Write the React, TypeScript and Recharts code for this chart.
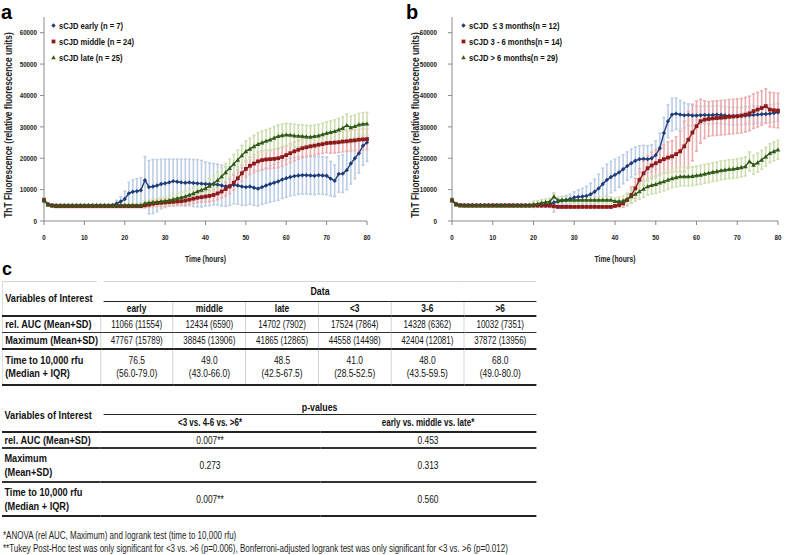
import React from "react";
import { ComposedChart, Line, ErrorBar, XAxis, YAxis, Legend } from "recharts";

// hours 0..80
const HOURS = [
  0, 1, 2, 3, 4, 5, 6, 7, 8, 9, 10, 11, 12, 13, 14, 15, 16, 17, 18, 19, 20, 21, 22, 23, 24, 25, 26, 27, 28, 29, 30, 31, 32, 33, 34, 35, 36, 37, 38, 39, 40,
  41, 42, 43, 44, 45, 46, 47, 48, 49, 50, 51, 52, 53, 54, 55, 56, 57, 58, 59, 60, 61, 62, 63, 64, 65, 66, 67, 68, 69, 70, 71, 72, 73, 74, 75, 76, 77, 78, 79, 80,
];

// panel a
const EARLY = [
  6500, 5300, 5000, 4900, 4900, 4900, 4900, 4900, 4900, 4900,
  4900, 4900, 4900, 4900, 4900, 4900, 4900, 5000, 5600, 6200,
  7000, 8800, 9300, 9500, 9800, 13000, 10800, 11000, 11300, 11800,
  12000, 12300, 12700, 12500, 12300, 12200, 12300, 12100, 12000, 11900,
  11800, 11700, 11700, 11600, 11300, 11000, 11200, 11500, 11300, 11000,
  10800, 11000, 10600, 10300, 10800, 11300, 11800, 12200, 12600, 13200,
  13600, 14000, 14300, 14500, 14600, 14600, 14500, 14400, 14600, 14500,
  14400, 13500, 12800, 15000, 15100, 16200, 18300, 20000, 21600, 24000,
  25000,
];
const EARLY_SD = [
  800, 400, 400, 400, 400, 400, 400, 400, 400, 400,
  400, 400, 400, 400, 400, 400, 400, 400, 1000, 1500,
  2500, 3500, 3800, 4000, 4000, 7500, 8500, 8600, 8300, 7900,
  7700, 7400, 7000, 7200, 7400, 7500, 7400, 7500, 7500, 7400,
  7000, 6800, 6600, 6500, 6500, 6300, 6200, 6000, 6000, 6000,
  5800, 5700, 5600, 5500, 5500, 5600, 5800, 5900, 6000, 6000,
  6000, 6000, 6000, 6000, 6000, 6000, 6000, 6000, 6000, 6000,
  6000, 5500, 5000, 5800, 6000, 6200, 6500, 6500, 6300, 6200,
  6000,
];
const MIDDLE = [
  6700, 5200, 4900, 4700, 4700, 4700, 4700, 4700, 4700, 4700,
  4700, 4700, 4700, 4700, 4700, 4700, 4700, 4700, 4700, 4700,
  4700, 4700, 4700, 4700, 4700, 5000, 5200, 5500, 5700, 5800,
  5900, 6000, 6100, 6200, 6300, 6500, 6800, 7100, 7400, 7600,
  7800, 8000, 8300, 8800, 9400, 10200, 11000, 12200, 13600, 15200,
  16600, 17600, 18300, 19000, 19400, 19600, 19700, 19800, 20000, 20400,
  21000, 21600, 22200, 22700, 23200, 23500, 23800, 24000, 24300, 24500,
  24800, 24900, 25000, 25100, 25300, 25400, 25600, 25700, 25900, 26000,
  26100,
];
const MIDDLE_SD = [
  600, 300, 300, 300, 300, 300, 300, 300, 300, 300,
  300, 300, 300, 300, 300, 300, 300, 300, 300, 300,
  300, 300, 300, 300, 300, 800, 900, 1000, 1100, 1200,
  1200, 1200, 1300, 1300, 1300, 1400, 1400, 1500, 1500, 1600,
  1700, 1800, 1900, 2000, 2100, 2200, 2300, 2400, 2500, 2600,
  2700, 2800, 2900, 3000, 3000, 3000, 3000, 3000, 3000, 3000,
  3000, 3000, 3000, 3000, 3000, 3000, 3000, 3000, 3000, 3000,
  3000, 3300, 3300, 3300, 3300, 3300, 3300, 3300, 3300, 3300,
  3300,
];
const LATE = [
  6600, 5300, 5000, 5000, 5000, 5000, 5000, 5000, 5000, 5000,
  5000, 5000, 5000, 5000, 5000, 5000, 5000, 5000, 5000, 5000,
  5000, 5000, 5000, 5000, 5000, 5600, 5800, 6000, 6100, 6300,
  6400, 6600, 6900, 7200, 7500, 7800, 8300, 8800, 9400, 9900,
  10400, 11200, 12000, 13000, 14200, 15500, 16800, 18200, 19500, 20900,
  22200, 23000, 23800, 24500, 25000, 25500, 25900, 26500, 27000, 27300,
  27500, 27400, 27200, 27100, 27000, 26900, 26800, 27000, 27200, 27600,
  28000, 28300, 28600, 29100, 29600, 30500, 29800, 30200, 30700, 30900,
  31000,
];
const LATE_SD = [
  600, 400, 400, 400, 400, 400, 400, 400, 400, 400,
  400, 400, 400, 400, 400, 400, 400, 400, 400, 400,
  400, 400, 400, 400, 400, 800, 900, 1000, 1100, 1200,
  1300, 1400, 1500, 1600, 1700, 1800, 1900, 2000, 2100, 2200,
  2300, 2400, 2500, 2600, 2700, 2800, 2900, 3000, 3100, 3200,
  3300, 3400, 3500, 3600, 3600, 3600, 3600, 3600, 3600, 3600,
  3600, 3600, 3600, 3600, 3600, 3600, 3600, 3600, 3600, 3600,
  3600, 3600, 3600, 3600, 3600, 3600, 3600, 3600, 3600, 3600,
  3600,
];

// panel b
const UPTO3 = [
  6600, 5300, 5000, 5000, 5000, 5000, 5000, 5000, 5000, 5000,
  5000, 5000, 5000, 5000, 5000, 5000, 5000, 5000, 5000, 5000,
  5000, 5000, 5000, 5000, 5300, 5900, 6200, 6500, 6700, 7000,
  7500, 7700, 7800, 8000, 8500, 9300, 10400, 11800, 13100, 14000,
  14700, 15500, 16500, 17500, 18400, 19200, 19700, 19800, 19700, 20000,
  21000, 23200, 28000, 31800, 33900, 34200, 33900, 33700, 33800, 33600,
  33600, 33700, 33800, 33700, 33800, 33900, 33800, 33600, 33500, 33400,
  33400, 33500, 33600, 33700, 33800, 33900, 34000, 34100, 34200, 34400,
  34600,
];
const UPTO3_SD = [
  600, 400, 400, 400, 400, 400, 400, 400, 400, 400,
  400, 400, 400, 400, 400, 400, 400, 400, 400, 400,
  400, 400, 400, 400, 1000, 3000, 1200, 1300, 1400, 1500,
  1800, 2200, 2600, 3000, 3500, 4000, 4500, 5000, 5000, 5000,
  5000, 4800, 4600, 4500, 4500, 4400, 4300, 4300, 4300, 4300,
  4500, 4800, 5000, 5200, 5200, 5000, 4500, 4000, 3500, 3200,
  3000, 2800, 2800, 2800, 2800, 2800, 2800, 2800, 2800, 2800,
  2800, 2800, 2800, 2800, 2800, 2800, 2800, 2800, 2800, 2800,
  2800,
];
const M3TO6 = [
  6600, 5300, 5000, 4900, 4900, 4900, 4900, 4900, 4900, 4900,
  4900, 4900, 4900, 4900, 4900, 4900, 4900, 4900, 4900, 4900,
  4900, 4900, 4900, 4900, 4900, 4700, 4500, 4500, 4500, 4500,
  4500, 4500, 4500, 4500, 4500, 4500, 4500, 4500, 4500, 4500,
  4800, 5100, 5600, 6700, 8300, 10400, 13100, 15200, 16800, 17700,
  18400, 19100, 19700, 20200, 20600, 21300, 22200, 23800, 25900, 28200,
  30200, 31800, 32300, 32500, 32700, 32800, 32900, 33000, 33200, 33300,
  33400, 33600, 33900, 34300, 35000, 35500, 36000, 36600, 35500, 35300,
  35200,
];
const M3TO6_SD = [
  600, 400, 400, 400, 400, 400, 400, 400, 400, 400,
  400, 400, 400, 400, 400, 400, 400, 400, 400, 400,
  400, 400, 400, 400, 400, 400, 400, 400, 400, 400,
  400, 400, 400, 400, 400, 400, 400, 400, 400, 400,
  400, 800, 1200, 1800, 2500, 3200, 3500, 3800, 4000, 4200,
  4300, 4400, 4500, 5000, 5000, 5500, 6500, 8000, 9000, 9000,
  8000, 7000, 6000, 5500, 5500, 5500, 5500, 5500, 5500, 5500,
  5500, 5500, 5500, 5500, 5500, 5500, 5500, 5500, 5500, 5500,
  5500,
];
const OVER6 = [
  6600, 5300, 5000, 5000, 5000, 5000, 5000, 5000, 5000, 5000,
  5000, 5000, 5000, 5000, 5000, 5000, 5000, 5000, 5000, 5000,
  5300, 5500, 5800, 6000, 6200, 7800, 6600, 6700, 6700, 6700,
  6700, 6700, 6700, 6700, 6700, 6700, 6700, 6700, 6700, 6700,
  6300, 6300, 6400, 7000, 7800, 8600, 9400, 10200, 11000, 11400,
  11700, 12200, 12600, 13100, 13600, 13900, 14200, 14200, 14200, 14300,
  14500, 14700, 15000, 15300, 15600, 15800, 16100, 16300, 16500, 16600,
  16800, 17100, 17400, 19000, 17900, 18600, 19500, 20500, 21600, 22200,
  22700,
];
const OVER6_SD = [
  600, 400, 400, 400, 400, 400, 400, 400, 400, 400,
  400, 400, 400, 400, 400, 400, 400, 400, 400, 400,
  1000, 1000, 1000, 1000, 1000, 1000, 1000, 1000, 1000, 1000,
  1000, 1000, 1000, 1000, 1000, 1000, 1000, 1000, 1000, 1000,
  1000, 1300, 1600, 1900, 2100, 2300, 2500, 2600, 2700, 2800,
  2900, 3000, 3000, 3000, 3000, 3000, 3000, 3000, 3000, 3000,
  3000, 3000, 3000, 3000, 3000, 3000, 3000, 3000, 3000, 3000,
  3000, 3000, 3000, 3000, 3000, 3000, 3000, 3000, 3000, 3000,
  3000,
];

const X_TICKS = [0, 10, 20, 30, 40, 50, 60, 70, 80];
const Y_TICKS = [0, 10000, 20000, 30000, 40000, 50000, 60000];

const LEGEND_A = ["sCJD early (n = 7)", "sCJD middle (n = 24)", "sCJD late (n = 25)"];
const LEGEND_B = ["sCJD  \u2264 3 months(n = 12)", "sCJD 3 - 6 months(n = 14)", "sCJD > 6 months(n = 29)"];

// table c
const GROUPS = ["early", "middle", "late", "<3", "3-6", ">6"];
const AUC_ROW = ["11066 (11554)", "12434 (6590)", "14702 (7902)", "17524 (7864)", "14328 (6362)", "10032 (7351)"];
const MAX_ROW = ["47767 (15789)", "38845 (13906)", "41865 (12865)", "44558 (14498)", "42404 (12081)", "37872 (13956)"];
const T10K_MEDIAN = ["76.5", "49.0", "48.5", "41.0", "48.0", "68.0"];
const T10K_IQR = ["(56.0-79.0)", "(43.0-66.0)", "(42.5-67.5)", "(28.5-52.5)", "(43.5-59.5)", "(49.0-80.0)"];
const P_COLS = ["<3 vs. 4-6 vs. >6*", "early vs. middle vs. late*"];
const P_AUC = ["0.007**", "0.453"];
const P_MAX = ["0.273", "0.313"];
const P_T10K = ["0.007**", "0.560"];

const SANS = '"Liberation Sans", Arial, sans-serif';
const SQUEEZE = 0.8; // no narrow font installed, squeeze Liberation Sans instead
const SERIES_COLORS = ["#1f3c78", "#8e1b1b", "#2f5a17"];
const ERR_COLORS = ["#bccee6", "#ebadad", "#cddeae"];

const rowsA = HOURS.map((h, i) => ({
  h,
  s0: EARLY[i], e0: EARLY_SD[i],
  s1: MIDDLE[i], e1: MIDDLE_SD[i],
  s2: LATE[i], e2: LATE_SD[i],
}));
const rowsB = HOURS.map((h, i) => ({
  h,
  s0: UPTO3[i], e0: UPTO3_SD[i],
  s1: M3TO6[i], e1: M3TO6_SD[i],
  s2: OVER6[i], e2: OVER6_SD[i],
}));

function Marker({ kind, cx, cy, color }: { kind: number; cx: number; cy: number; color: string }) {
  if (kind === 0) {
    const r = 2.2;
    return <path d={`M${cx},${cy - r}L${cx + r},${cy}L${cx},${cy + r}L${cx - r},${cy}Z`} fill={color} />;
  }
  if (kind === 1) {
    return <rect x={cx - 1.9} y={cy - 1.9} width={3.8} height={3.8} fill={color} />;
  }
  const r = 2.3;
  return <path d={`M${cx},${cy - r}L${cx + r},${cy + r * 0.8}L${cx - r},${cy + r * 0.8}Z`} fill={color} />;
}

function AxisTick({ x, y, payload, anchor, dy }: any) {
  return (
    <g transform={`translate(${x},${y})`}>
      <text
        transform={`scale(${SQUEEZE},1)`}
        textAnchor={anchor}
        dy={dy}
        fontSize={7.8}
        fontWeight="bold"
        fontFamily={SANS}
        fill="#222"
      >
        {payload.value}
      </text>
    </g>
  );
}

function Narrow({ children, origin = "center" }: { children: React.ReactNode; origin?: string }) {
  return (
    <span style={{ display: "inline-block", whiteSpace: "pre", transform: `scaleX(${SQUEEZE})`, transformOrigin: origin }}>
      {children}
    </span>
  );
}

function LegendBox({ labels }: { labels: string[] }) {
  return (
    <div style={{ fontFamily: SANS, fontWeight: "bold", fontSize: 9.5, color: "#111" }}>
      {labels.map((t, i) => (
        <div key={t} style={{ height: 16, display: "flex", alignItems: "center", whiteSpace: "pre" }}>
          <svg width={7} height={7} style={{ marginRight: 2 }}>
            <Marker kind={i} cx={3.5} cy={3.5} color={SERIES_COLORS[i]} />
          </svg>
          <Narrow origin="left">{t}</Narrow>
        </div>
      ))}
    </div>
  );
}

function Panel({ rows, labels, axisLeft, plotRight, tickGap, labelX, legendLeft }: any) {
  const yWidth = 38;
  const yLabel = () => (
    <text
      transform={`translate(${labelX},125) rotate(-90) scale(${SQUEEZE},1)`}
      textAnchor="middle"
      dominantBaseline="central"
      fontSize={10.5}
      fontWeight="bold"
      fontFamily={SANS}
      fill="#222"
    >
      ThT Fluorescence (relative fluorescence units)
    </text>
  );
  const xLabel = (p: any) => {
    const vb = p.viewBox;
    return (
      <text
        transform={`translate(${vb.x + vb.width / 2},${262}) scale(${SQUEEZE},1)`}
        textAnchor="middle"
        fontSize={8.5}
        fontWeight="bold"
        fontFamily={SANS}
        fill="#222"
      >
        Time (hours)
      </text>
    );
  };
  return (
    <ComposedChart
      width={400}
      height={275}
      data={rows}
      margin={{ top: 17, right: 400 - plotRight, left: axisLeft - yWidth, bottom: 24 }}
    >
      <XAxis
        dataKey="h"
        type="number"
        domain={[0, 80]}
        ticks={X_TICKS}
        interval={0}
        height={30}
        stroke="#8a8a8a"
        tickSize={4}
        tickMargin={9}
        tick={(p: any) => <AxisTick {...p} anchor="middle" dy="0.71em" />}
        label={{ content: xLabel }}
      />
      <YAxis
        type="number"
        domain={[0, 65000]}
        ticks={Y_TICKS}
        interval={0}
        width={yWidth}
        stroke="#8a8a8a"
        tickSize={4}
        tickMargin={tickGap}
        allowDataOverflow
        tick={(p: any) => <AxisTick {...p} anchor="end" dy="0.35em" />}
        label={{ content: yLabel }}
      />
      {[0, 1, 2].map((k) => (
        <Line
          key={`err${k}`}
          dataKey={`s${k}`}
          stroke="none"
          dot={false}
          activeDot={false}
          legendType="none"
          isAnimationActive={false}
        >
          <ErrorBar dataKey={`e${k}`} width={1.5} strokeWidth={1.6} stroke={ERR_COLORS[k]} isAnimationActive={false} />
        </Line>
      ))}
      {[0, 1, 2].map((k) => (
        <Line
          key={`line${k}`}
          dataKey={`s${k}`}
          stroke={SERIES_COLORS[k]}
          strokeWidth={1.4}
          activeDot={false}
          isAnimationActive={false}
          dot={(p: any) => <Marker key={`m${k}-${p.index}`} kind={k} cx={p.cx} cy={p.cy} color={SERIES_COLORS[k]} />}
        />
      ))}
      <Legend
        layout="vertical"
        align="center"
        verticalAlign="middle"
        wrapperStyle={{ left: legendLeft, top: 17, width: 200 }}
        content={() => <LegendBox labels={labels} />}
      />
    </ComposedChart>
  );
}

// tables are laid out at full width and squeezed horizontally as a whole
const T_WIDTH = 534 / SQUEEZE;
const FIRST_COL = 98 / SQUEEZE;
const cellBase: React.CSSProperties = { padding: 0, textAlign: "center", verticalAlign: "middle", whiteSpace: "nowrap" };
const labelCell: React.CSSProperties = { ...cellBase, textAlign: "left", fontWeight: "bold", fontSize: 11.5, paddingLeft: 3 };
const vline = "1px solid #c9c9c9";
const tableBase: React.CSSProperties = {
  position: "absolute",
  left: 2,
  width: T_WIDTH,
  borderCollapse: "collapse",
  tableLayout: "fixed",
  fontFamily: SANS,
  fontSize: 10,
  color: "#111",
  transform: `scaleX(${SQUEEZE})`,
  transformOrigin: "left top",
};

function DataTable() {
  const valCol = (T_WIDTH - FIRST_COL) / GROUPS.length;
  return (
    <table style={{ ...tableBase, top: 281, lineHeight: "13px", borderTop: "1px solid #d4d4d4", borderLeft: "1px solid #d4d4d4" }}>
      <colgroup>
        <col style={{ width: FIRST_COL }} />
        {GROUPS.map((g) => (
          <col key={g} style={{ width: valCol }} />
        ))}
      </colgroup>
      <tbody>
        <tr style={{ height: 20 }}>
          <td rowSpan={2} style={{ ...labelCell, borderBottom: "2px solid #222" }}>
            Variables of Interest
          </td>
          <td colSpan={6} style={{ ...cellBase, fontWeight: "bold", fontSize: 11, borderBottom: "1.5px solid #222", borderLeft: "8px solid #fff" }}>
            Data
          </td>
        </tr>
        <tr style={{ height: 14 }}>
          {GROUPS.map((g, i) => (
            <td key={g} style={{ ...cellBase, fontWeight: "bold", fontSize: 10.5, borderBottom: "2px solid #222", borderLeft: i ? vline : undefined }}>
              {g}
            </td>
          ))}
        </tr>
        <tr style={{ height: 16 }}>
          <td style={{ ...labelCell, borderBottom: "1.5px solid #333" }}>rel. AUC (Mean+SD)</td>
          {AUC_ROW.map((v, i) => (
            <td key={i} style={{ ...cellBase, borderBottom: "1.5px solid #333", borderLeft: vline }}>
              {v}
            </td>
          ))}
        </tr>
        <tr style={{ height: 17 }}>
          <td style={{ ...labelCell, borderBottom: "2px solid #222" }}>Maximum (Mean+SD)</td>
          {MAX_ROW.map((v, i) => (
            <td key={i} style={{ ...cellBase, borderBottom: "2px solid #222", borderLeft: vline }}>
              {v}
            </td>
          ))}
        </tr>
        <tr style={{ height: 36 }}>
          <td style={{ ...labelCell, borderBottom: "2.5px solid #222" }}>
            Time to 10,000 rfu
            <br />
            (Median + IQR)
          </td>
          {T10K_MEDIAN.map((v, i) => (
            <td key={i} style={{ ...cellBase, fontSize: 10.5, borderBottom: "2.5px solid #222", borderLeft: vline }}>
              {v}
              <br />
              {T10K_IQR[i]}
            </td>
          ))}
        </tr>
      </tbody>
    </table>
  );
}

function PTable() {
  const c2 = 220 / SQUEEZE;
  return (
    <table style={{ ...tableBase, top: 400, lineHeight: "14px" }}>
      <colgroup>
        <col style={{ width: FIRST_COL }} />
        <col style={{ width: c2 }} />
        <col style={{ width: T_WIDTH - FIRST_COL - c2 }} />
      </colgroup>
      <tbody>
        <tr style={{ height: 12 }}>
          <td rowSpan={2} style={{ ...labelCell, borderBottom: "2.5px solid #222" }}>
            Variables of Interest
          </td>
          <td colSpan={2} style={{ ...cellBase, fontWeight: "bold", fontSize: 11, borderBottom: "1.5px solid #222", borderLeft: "8px solid #fff" }}>
            p-values
          </td>
        </tr>
        <tr style={{ height: 17 }}>
          {P_COLS.map((c) => (
            <td key={c} style={{ ...cellBase, fontWeight: "bold", fontSize: 10, borderBottom: "2.5px solid #222" }}>
              {c}
            </td>
          ))}
        </tr>
        <tr style={{ height: 16 }}>
          <td style={{ ...labelCell, borderBottom: "2px solid #333" }}>rel. AUC (Mean+SD)</td>
          {P_AUC.map((v, i) => (
            <td key={i} style={{ ...cellBase, fontSize: 10.5, borderBottom: "2px solid #333" }}>
              {v}
            </td>
          ))}
        </tr>
        <tr style={{ height: 34 }}>
          <td style={{ ...labelCell, borderBottom: "2px solid #333" }}>
            Maximum
            <br />
            (Mean+SD)
          </td>
          {P_MAX.map((v, i) => (
            <td key={i} style={{ ...cellBase, fontSize: 10.5, borderBottom: "2px solid #333" }}>
              {v}
            </td>
          ))}
        </tr>
        <tr style={{ height: 34 }}>
          <td style={{ ...labelCell, borderBottom: "2.5px solid #222" }}>
            Time to 10,000 rfu
            <br />
            (Median + IQR)
          </td>
          {P_T10K.map((v, i) => (
            <td key={i} style={{ ...cellBase, fontSize: 10.5, borderBottom: "2.5px solid #222" }}>
              {v}
            </td>
          ))}
        </tr>
      </tbody>
    </table>
  );
}

const letterStyle: React.CSSProperties = {
  position: "absolute",
  fontFamily: SANS,
  fontWeight: "bold",
  color: "#000",
  lineHeight: "normal",
};
const noteStyle: React.CSSProperties = {
  position: "absolute",
  left: 3,
  fontFamily: SANS,
  fontSize: 10,
  lineHeight: "11px",
  color: "#222",
  whiteSpace: "nowrap",
};

export default function App() {
  return (
    <div style={{ position: "fixed", left: 0, top: 0, width: 787, height: 555, background: "#fff", overflow: "hidden" }}>
      <div style={{ position: "absolute", left: 0, top: 0 }}>
        <Panel rows={rowsA} labels={LEGEND_A} axisLeft={44} plotRight={367} tickGap={3} labelX={8} legendLeft={50} />
      </div>
      <div style={{ position: "absolute", left: 400, top: 0 }}>
        <Panel rows={rowsB} labels={LEGEND_B} axisLeft={52} plotRight={378} tickGap={11} labelX={15} legendLeft={60} />
      </div>
      <div style={{ ...letterStyle, left: 1, top: 1, fontSize: 20 }}>a</div>
      <div style={{ ...letterStyle, left: 406, top: 1, fontSize: 20 }}>b</div>
      <div style={{ ...letterStyle, left: 2, top: 259, fontSize: 18 }}>c</div>
      <DataTable />
      <PTable />
      <div style={{ ...noteStyle, top: 530 }}>
        <Narrow origin="left">*ANOVA (rel AUC, Maximum) and logrank test (time to 10,000 rfu)</Narrow>
      </div>
      <div style={{ ...noteStyle, top: 543 }}>
        <Narrow origin="left">
          **Tukey Post-Hoc test was only significant for &lt;3 vs. &gt;6 (p=0.006), Bonferroni-adjusted logrank test was only significant for &lt;3 vs. &gt;6 (p=0.012)
        </Narrow>
      </div>
    </div>
  );
}
